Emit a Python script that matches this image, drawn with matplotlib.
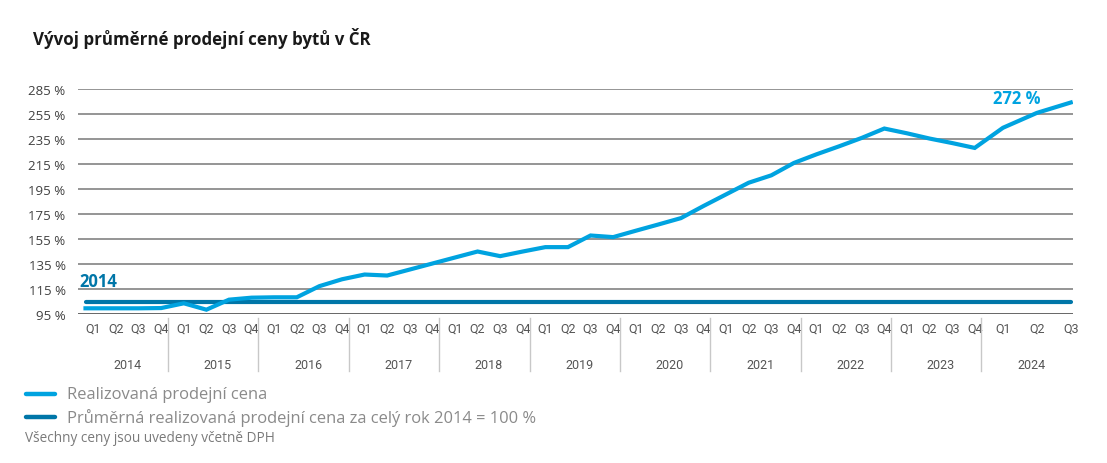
import matplotlib
matplotlib.use("Agg")
import matplotlib.pyplot as plt
from matplotlib.lines import Line2D

# Data
roky = ["2014", "2015", "2016", "2017", "2018", "2019", "2020", "2021", "2022", "2023", "2024"]
kvartaly_v_roce = [4, 4, 4, 4, 4, 4, 4, 4, 4, 4, 3]
kvartaly = ["Q1", "Q2", "Q3", "Q4"]

cena = [99.3, 99.3, 99.3, 99.5, 103.3, 98.2, 106.2, 107.8, 108.1, 108.1,
        117.0, 122.5, 126.3, 125.5, 130.3, 135.1, 139.9, 144.7, 141.0, 144.7,
        148.2, 148.2, 157.5, 156.2, 161.3, 166.3, 171.4, 181.1, 190.4, 199.7,
        205.6, 215.5, 222.4, 228.8, 235.5, 243.0, 239.2, 235.0, 231.4, 227.5,
        243.6, 255.5, 263.8]
zaklad_2014 = 104.0
posledni_popisek = "272 %"

y_ticky = [95, 115, 135, 155, 175, 195, 215, 235, 255, 275]
y_popisky = ["95 %", "115 %", "135 %", "155 %", "175 %", "195 %", "215 %", "235 %", "255 %", "285 %"]

SVETLA = "#00a3e0"
TMAVA = "#0076a8"
SEDA = "#8c8c8c"

plt.rcParams["font.family"] = ["Open Sans", "DejaVu Sans"]
UZKY = ["Liberation Sans Narrow", "Roboto", "DejaVu Sans"]


def pozice_kvartalu():
    # každý rok má stejnou šířku, neúplný rok se rozloží po celé šířce
    xs, popisky = [], []
    for i, n in enumerate(kvartaly_v_roce):
        for k in range(n):
            if n == 4:
                xs.append(i * 4 + 0.5 + k)
            else:
                xs.append(i * 4 + 0.75 + 1.5 * k)
            popisky.append(kvartaly[k])
    return xs, popisky


fig = plt.figure(figsize=(11.07, 4.64), dpi=100)
ax = fig.add_axes([0.0705, 0.3218, 0.8988, 0.4853])

xs, q_popisky = pozice_kvartalu()

for y in y_ticky[1:]:
    ax.axhline(y, color=SEDA, lw=1.3, zorder=1)
ax.axhline(y_ticky[0], color="#666666", lw=1.4, zorder=1)

ax.plot([xs[0] - 0.35, xs[-1]], [zaklad_2014, zaklad_2014], color=TMAVA, lw=3.0,
        solid_capstyle="round", zorder=3)
ax.plot([xs[0] - 0.35] + xs[1:], cena, color=SVETLA, lw=3.0, solid_joinstyle="miter", zorder=4)

ax.set_xlim(-0.18, 43.85)
ax.set_ylim(95, 275)
for s in ax.spines.values():
    s.set_visible(False)

ax.set_yticks(y_ticky)
ax.set_yticklabels(y_popisky, fontsize=9.5, color="#404040")
ax.tick_params(axis="y", length=0, pad=9)

ax.set_xticks(xs)
ax.set_xticklabels(q_popisky, fontsize=9, color="#555555", family=UZKY)
ax.tick_params(axis="x", length=0, pad=6)

tr = ax.get_xaxis_transform()
for i, rok in enumerate(roky):
    ax.text(i * 4 + 2, -0.225, rok, transform=tr, ha="center", va="center",
            fontsize=9, color="#555555", family=UZKY)
    if i > 0:
        ax.add_line(Line2D([i * 4 - 0.2, i * 4 - 0.2], [-0.02, -0.255], transform=tr,
                           color="#c8c8c8", lw=1, clip_on=False))

ax.text(-0.1, 121.5, "2014", fontsize=12, fontweight="bold", color=TMAVA,
        ha="left", va="center")
ax.annotate(posledni_popisek, (xs[-1], cena[-1]), xytext=(-39, 3), textcoords="offset points",
            fontsize=12, fontweight="bold", color=SVETLA, ha="center", va="center")

fig.text(0.030, 0.918, "Vývoj průměrné prodejní ceny bytů v ČR", fontsize=12.2,
         fontweight="bold", color="#1a1a1a", ha="left", va="center")

# legenda
fig.add_artist(Line2D([0.0235, 0.0497], [0.1487, 0.1487], color=SVETLA, lw=3.2,
                      solid_capstyle="round"))
fig.text(0.0605, 0.1487, "Realizovaná prodejní cena", fontsize=11.9, color="#8a8a8a",
         ha="left", va="center")
fig.add_artist(Line2D([0.0235, 0.0497], [0.0991, 0.0991], color=TMAVA, lw=3.2,
                      solid_capstyle="round"))
fig.text(0.0605, 0.0991, "Průměrná realizovaná prodejní cena za celý rok 2014 = 100 %",
         fontsize=11.9, color="#8a8a8a", ha="left", va="center")
fig.text(0.0226, 0.0560, "Všechny ceny jsou uvedeny včetně DPH", fontsize=9.8,
         color="#7a7a7a", ha="left", va="center")

fig.savefig("out.png", dpi=100)
